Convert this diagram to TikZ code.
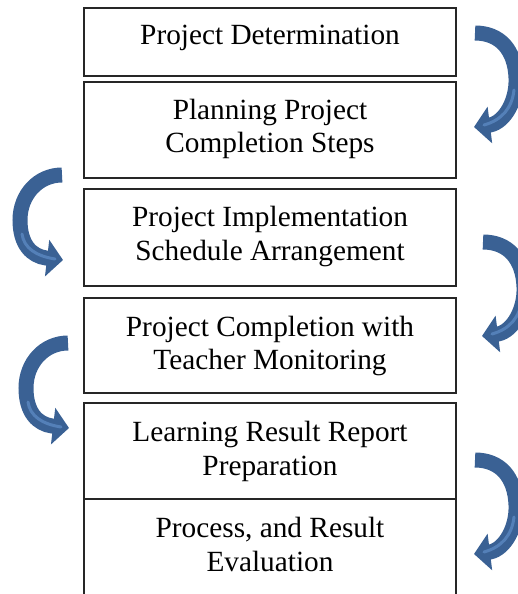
\documentclass[tikz,border=0pt]{standalone}
\usepackage{fontspec}
\setmainfont{Liberation Serif}
\usetikzlibrary{positioning,arrows.meta}
\definecolor{frame}{HTML}{262626}
\definecolor{arrowblue}{HTML}{3A6194}
\definecolor{arrowlight}{HTML}{5B88C2}
\tikzset{
  stagebox/.style={draw=frame, line width=1.3pt, minimum width=372pt, align=center,
    inner sep=0pt, outer sep=0pt, font=\fontsize{29.3}{33.5}\selectfont, text depth=8pt},
  turn/.style={draw=arrowblue, line width=15pt, line cap=butt,
    -{Triangle[length=16pt,width=36pt]}},
  glint/.style={draw=arrowlight, line width=3pt, line cap=round, opacity=.8},
}

\begin{document}
\begin{tikzpicture}[x=1pt,y=1pt]
  \useasboundingbox (0,0) rectangle (518,-594);
  \clip (0,0) rectangle (518,-594);
  % stages
  \node[stagebox, minimum height=68pt, text depth=14pt, anchor=north west] (det) at (84,-8) {Project Determination};
  \node[stagebox, minimum height=96pt, below=6pt of det] (plan) {Planning Project\\Completion Steps};
  \node[stagebox, minimum height=97pt, below=11pt of plan] (sched) {Project Implementation\\Schedule Arrangement};
  \node[stagebox, minimum height=95pt, below=12pt of sched, text depth=5pt] (monit) {Project Completion with\\Teacher Monitoring};
  \node[stagebox, minimum height=96pt, below=10pt of monit, text depth=5pt] (report) {Learning Result Report\\Preparation};
  \node[stagebox, minimum height=99pt, below=0pt of report] (eval) {Process, and Result\\Evaluation};
  % turning arrows, right side
  \foreach \dx/\dy in {0/0, 8/209, 0/427} {
    \draw[turn, shift={(\dx,-\dy)}] (475,-33) .. controls (500,-33) and (515,-50) .. (516,-78)
      .. controls (517,-100) and (505,-122) .. (490,-125) -- (474,-127);
    \draw[glint, shift={(\dx,-\dy)}] (514,-90) .. controls (512,-108) and (502,-120) .. (484,-125);
  }
  % turning arrows, left side
  \foreach \dx/\dy in {0/0, 6/168} {
    \draw[turn, shift={(\dx,-\dy)}] (62,-175) .. controls (38,-175) and (20,-195) .. (20,-220)
      .. controls (20,-245) and (32,-256) .. (46,-258) -- (63,-260);
    \draw[glint, shift={(\dx,-\dy)}] (22,-234) .. controls (24,-248) and (36,-256) .. (55,-259);
  }
\end{tikzpicture}
\end{document}
